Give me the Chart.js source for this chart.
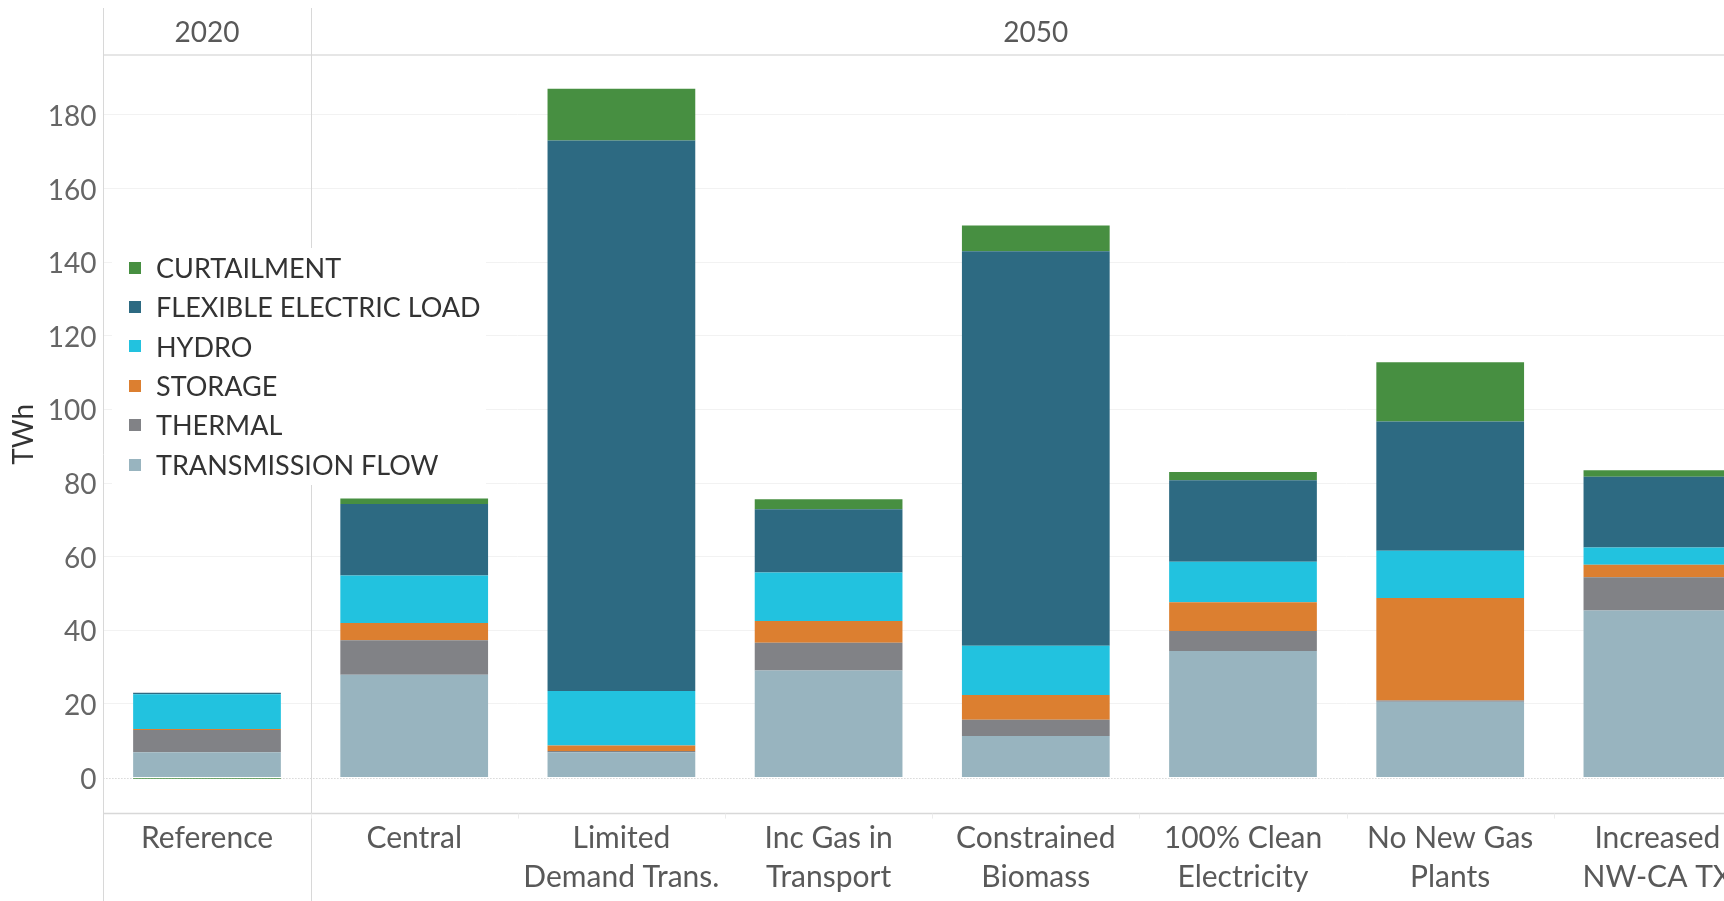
<!DOCTYPE html>
<html>
<head>
<meta charset="utf-8">
<title>TWh by scenario</title>
<script src="https://cdn.jsdelivr.net/npm/chart.js@4.4.0/dist/chart.umd.min.js"></script>
<style>
  html, body { margin: 0; padding: 0; background: #ffffff; overflow: hidden; }
  #wrap { position: relative; width: 1780px; height: 901px; }
  canvas { display: block; }
</style>
</head>
<body>
<div id="wrap"><canvas id="chart" width="1780" height="901"></canvas></div>
<script>
// Scenario names (multi-line where the label wraps)
const categories = [
  'Reference',
  'Central',
  ['Limited', 'Demand Trans.'],
  ['Inc Gas in', 'Transport'],
  ['Constrained', 'Biomass'],
  ['100% Clean', 'Electricity'],
  ['No New Gas', 'Plants'],
  ['Increased', 'NW-CA TX']
];

// Column groups shown in the header band (first group spans one scenario)
const groupLabels = ['2020', '2050'];
const groupSizes = [1, 7];

// Flexibility resources, TWh (stacked bottom to top)
const transmissionFlow = [6.9, 27.9, 6.9, 29.1, 11.3, 34.4, 20.6, 45.4];
const thermal          = [6.0, 9.4, 0.3, 7.5, 4.4, 5.4, 0.3, 9.0];
const storage          = [0.3, 4.7, 1.5, 5.9, 6.7, 7.8, 27.9, 3.4];
const hydro            = [9.4, 12.9, 14.8, 13.2, 13.4, 11.0, 12.8, 4.7];
const flexibleLoad     = [0.4, 19.4, 149.6, 17.2, 107.2, 22.2, 35.1, 19.2];
const curtailment      = [-0.3, 1.5, 14.0, 2.7, 7.0, 2.2, 16.1, 1.8];

const yTicks = [0, 20, 40, 60, 80, 100, 120, 140, 160, 180];

const FONT = 'Lato, "Open Sans", sans-serif';

const series = [
  { label: 'TRANSMISSION FLOW',      data: transmissionFlow, color: '#98b4bf' },
  { label: 'THERMAL',                data: thermal,          color: '#818286' },
  { label: 'STORAGE',                data: storage,          color: '#dc7f30' },
  { label: 'HYDRO',                  data: hydro,            color: '#22c2df' },
  { label: 'FLEXIBLE ELECTRIC LOAD', data: flexibleLoad,     color: '#2d6a82' },
  { label: 'CURTAILMENT',            data: curtailment,      color: '#478f41' }
];

const LINE = '#d8d8d8';

// Frame lines, header band, zero line and category separators
const framePlugin = {
  id: 'frame',
  beforeDatasetsDraw(chart) {
    const { ctx, chartArea, scales } = chart;
    const x = scales.x, y = scales.y;
    const W = chart.width, H = chart.height;
    const band = (x.right - x.left) / categories.length;
    ctx.save();

    // zero line (dotted)
    const y0 = Math.round(y.getPixelForValue(0)) + 0.5;
    ctx.strokeStyle = '#c4c4c4';
    ctx.lineWidth = 1;
    ctx.setLineDash([1, 2]);
    ctx.beginPath(); ctx.moveTo(x.left, y0); ctx.lineTo(W, y0); ctx.stroke();
    ctx.setLineDash([]);

    // header band bottom line
    ctx.strokeStyle = '#dedede';
    ctx.lineWidth = 1.5;
    ctx.beginPath(); ctx.moveTo(x.left, chartArea.top); ctx.lineTo(W, chartArea.top); ctx.stroke();

    // axis baseline under the plot
    ctx.strokeStyle = LINE;
    ctx.beginPath(); ctx.moveTo(x.left, chartArea.bottom); ctx.lineTo(W, chartArea.bottom); ctx.stroke();

    // vertical frame lines: left edge and group dividers
    ctx.lineWidth = 1;
    ctx.strokeStyle = LINE;
    let idx = 0;
    const xs = [x.left];
    groupSizes.forEach(n => { idx += n; xs.push(x.left + band * idx); });
    xs.slice(0, -1).forEach(px => {
      const p = Math.round(px) + 0.5;
      ctx.beginPath(); ctx.moveTo(p, 8); ctx.lineTo(p, H); ctx.stroke();
    });

    // faint separators between category labels
    ctx.strokeStyle = '#ececec';
    for (let i = 1; i < categories.length; i++) {
      const p = Math.round(x.left + band * i) + 0.5;
      ctx.beginPath(); ctx.moveTo(p, chartArea.bottom); ctx.lineTo(p, chartArea.bottom + 5); ctx.stroke();
    }

    // group labels in the header band
    ctx.fillStyle = '#595959';
    ctx.font = '28px ' + FONT;
    ctx.textAlign = 'center';
    ctx.textBaseline = 'middle';
    let start = 0;
    groupLabels.forEach((g, i) => {
      const a = x.left + band * start;
      const b = x.left + band * (start + groupSizes[i]);
      ctx.fillText(g, (a + b) / 2, 33);
      start += groupSizes[i];
    });
    ctx.restore();
  },
  afterDraw(chart) {
    // legend panel, top entry is the top of the stack
    const ctx = chart.ctx;
    ctx.save();
    ctx.fillStyle = '#ffffff';
    ctx.fillRect(112, 248, 374, 237);
    ctx.font = '27px ' + FONT;
    ctx.textAlign = 'left';
    ctx.textBaseline = 'middle';
    const items = series.slice().reverse();
    items.forEach((s, i) => {
      const cy = 267.5 + i * 39.4;
      ctx.fillStyle = s.color;
      ctx.fillRect(129, Math.round(cy - 6), 12, 12);
      ctx.fillStyle = '#333333';
      ctx.fillText(s.label, 156, cy + 1.5);
    });
    ctx.restore();
  }
};

new Chart(document.getElementById('chart'), {
  type: 'bar',
  data: {
    labels: categories,
    datasets: series.map(s => ({
      label: s.label,
      data: s.data,
      backgroundColor: s.color,
      borderWidth: 0,
      barPercentage: 0.713,
      categoryPercentage: 1.0
    }))
  },
  options: {
    responsive: false,
    animation: false,
    layout: { padding: { top: 55, right: 19, bottom: 0, left: 0 } },
    plugins: {
      legend: { display: false },
      tooltip: { enabled: false }
    },
    scales: {
      x: {
        stacked: true,
        grid: { display: false, drawTicks: false },
        border: { display: false },
        ticks: {
          color: '#595959',
          padding: 4.5,
          maxRotation: 0,
          autoSkip: false,
          font: { family: FONT, size: 30, lineHeight: 1.32 }
        },
        afterFit(scale) { scale.height = 87.4; }
      },
      y: {
        stacked: true,
        min: -9.8,
        max: 196.3,
        afterBuildTicks(scale) { scale.ticks = yTicks.map(v => ({ value: v })); },
        grid: {
          drawTicks: false,
          color: ctx => (ctx.tick && ctx.tick.value === 0) ? 'rgba(0,0,0,0)' : '#f2f2f2',
          lineWidth: 1
        },
        border: { display: false },
        ticks: {
          color: '#666666',
          padding: 7,
          labelOffset: 2,
          font: { family: FONT, size: 28 }
        },
        title: {
          display: true,
          text: 'TWh',
          color: '#333333',
          font: { family: FONT, size: 28, lineHeight: 1.2 },
          padding: { top: 7, bottom: 0 }
        },
        afterFit(scale) { scale.width = 103.4; }
      }
    }
  },
  plugins: [framePlugin]
});
</script>
</body>
</html>
